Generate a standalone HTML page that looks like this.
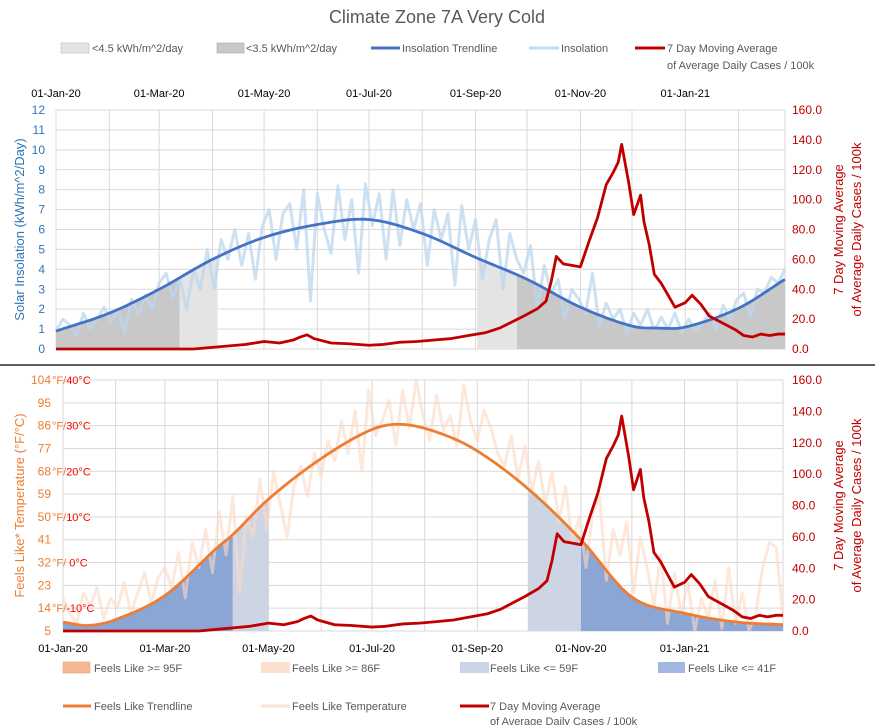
<!DOCTYPE html>
<html><head><meta charset="utf-8"><style>
html,body{margin:0;padding:0;background:#fff;}
svg{display:block;font-family:"Liberation Sans",sans-serif;}
</style></head><body>
<svg id="c" width="875" height="725" viewBox="0 0 875 725" xmlns="http://www.w3.org/2000/svg">
<text x="437" y="23" text-anchor="middle" font-size="18" fill="#595959">Climate Zone 7A Very Cold</text>
<line x1="0" y1="365" x2="875" y2="365" stroke="#000" stroke-width="1.2"/>
<g font-size="11" fill="#595959">
<g><rect x="61" y="43" width="28" height="10" fill="#e4e4e4" stroke="#bfbfbf" stroke-width="0.6"/><text x="92" y="52">&lt;4.5 kWh/m^2/day</text></g>
<g><rect x="217" y="43" width="27" height="10" fill="#c9c9c9" stroke="#a6a6a6" stroke-width="0.6"/><text x="246" y="52">&lt;3.5 kWh/m^2/day</text></g>
<g><line x1="371" y1="48" x2="400" y2="48" stroke="#4472c4" stroke-width="3"/><text x="402" y="52">Insolation Trendline</text></g>
<g><line x1="529" y1="48" x2="559" y2="48" stroke="#c6dcf1" stroke-width="3"/><text x="561" y="52">Insolation</text></g>
<g><line x1="635" y1="48" x2="665" y2="48" stroke="#c00000" stroke-width="3"/><text x="667" y="52">7 Day Moving Average</text><text x="667" y="69">of Average Daily Cases / 100k</text></g>
</g>
<g font-size="11" fill="#595959">
<g><rect x="63" y="662" width="27" height="11" fill="#f5b894" stroke="#f0a070" stroke-width="0.6"/><text x="94" y="672">Feels Like &gt;= 95F</text></g>
<g><rect x="261" y="662" width="29" height="11" fill="#fbe0d0"/><text x="292" y="672">Feels Like &gt;= 86F</text></g>
<g><rect x="460" y="662" width="29" height="11" fill="#cbd4e6"/><text x="490" y="672">Feels Like &lt;= 59F</text></g>
<g><rect x="658" y="662" width="27" height="11" fill="#a3b8e0"/><text x="688" y="672">Feels Like &lt;= 41F</text></g>
<g><line x1="63" y1="706" x2="91" y2="706" stroke="#ed7d31" stroke-width="3"/><text x="94" y="710">Feels Like Trendline</text></g>
<g><line x1="261" y1="706" x2="290" y2="706" stroke="#fbe3d4" stroke-width="3"/><text x="292" y="710">Feels Like Temperature</text></g>
<g><line x1="460" y1="706" x2="489" y2="706" stroke="#c00000" stroke-width="3"/><text x="490" y="710">7 Day Moving Average</text><text x="490" y="725">of Average Daily Cases / 100k</text></g>
</g>
</svg>
<script>
// ---- data ----
const dateLabels=["01-Jan-20","01-Mar-20","01-May-20","01-Jul-20","01-Sep-20","01-Nov-20","01-Jan-21"];
const dateLabelDays=[0,60,121,182,244,305,366];
const monthDays=[0,31,60,91,121,152,182,213,244,274,305,335,366,397];
const totalDays=424;
const insolTicks=[0,1,2,3,4,5,6,7,8,9,10,11,12];
const caseTicks=["0.0","20.0","40.0","60.0","80.0","100.0","120.0","140.0","160.0"];
const tempTicks=[5,14,23,32,41,50,59,68,77,86,95,104];
const tempCelsius={14:"-10°C",32:" 0°C",50:"10°C",68:"20°C",86:"30°C",104:"40°C"};
const insolation=[0.9,1.5,1.2,0.7,1.8,1.0,1.5,2.1,
1.3,2.0,0.8,2.5,1.7,2.7,2.0,
3.3,3.8,2.6,3.5,2.0,4.0,3.0,5.0,
3.0,5.5,4.5,6.0,4.2,5.8,3.5,6.2,
7.0,4.5,6.8,7.3,5.0,8.0,2.4,7.8,
6.0,4.8,8.2,5.5,7.5,3.8,8.3,6.2,
7.8,4.5,8.0,5.2,7.5,6.0,7.3,4.2,
7.0,5.5,6.8,3.2,7.2,5.0,6.5,3.5,
5.5,6.5,3.0,5.8,4.5,3.8,5.2,2.0,
4.2,2.8,3.5,1.5,3.0,2.5,1.8,3.8,
1.2,2.3,1.5,2.0,0.8,1.8,1.2,2.0,
0.9,1.6,1.0,1.8,0.8,1.5,0.9,1.3,
1.8,1.0,2.2,1.5,2.5,2.8,1.6,3.0,
2.8,3.6,3.3,4.0];
const insolTrendDays=[0,31,60,91,121,152,182,213,244,274,305,335,350,366,397,424];
const insolTrend=[0.9,1.8,3.0,4.5,5.6,6.25,6.5,5.8,4.6,3.5,2.1,1.15,1.05,1.1,2.05,3.5];
const temperature=[18,12,8,20,15,22,10,18,
14,24,12,20,28,16,26,
30,22,36,18,40,30,45,28,
52,35,58,20,50,42,65,45,
68,55,42,62,70,58,75,66,
80,72,88,75,92,68,100,82,
88,96,78,100,85,104,90,80,
98,84,90,78,102,88,80,92,
85,75,70,82,65,78,60,72,
55,68,48,62,40,50,30,52,
58,25,45,35,48,20,42,30,
15,35,8,28,12,24,5,18,
10,25,6,30,8,20,5,12,
30,40,38,10];
const tempTrendDays=[0,15,31,60,91,100,121,152,182,200,222,244,274,305,335,366,397,424];
const tempTrend=[8.5,7.2,9.5,19,38,43,57,73,84.5,86.5,83,76,61,41,18.4,12,8.5,7.5];
const caseDays=[0,80,90,100,110,121,130,138,142,146,150,160,170,182,190,200,210,220,230,240,250,258,265,272,280,285,288,291,295,300,305,310,315,320,324,327,329,333,336,340,342,345,348,352,356,360,366,370,375,380,385,390,395,400,405,410,415,420,424];
const caseVals=[0,0,1,2,3,5,4,6,8,9.5,7,4,3.5,2.5,3,4.5,5,6,7,9,11,14,18,22,27,32,45,62,57,56,55,72,88,110,118,125,137,112,90,103,85,70,50,44,36,28,31,36,30,22,19,16,13,9,8,10,9,10,10];
// shaded ranges (days)
const top35Ranges=[[0,72],[268,424]];
const top45Ranges=[[72,94],[245,268]];
const bot41Ranges=[[0,100],[305,424]];
const bot59Ranges=[[100,121],[274,305]];

// ---- drawing ----
const NS="http://www.w3.org/2000/svg";
const svg=document.getElementById('c');
function mk(tag,attrs,parent){const e=document.createElementNS(NS,tag);for(const k in attrs)e.setAttribute(k,attrs[k]);(parent||svg).appendChild(e);return e;}
function smooth(days,vals,d){
  const n=days.length;
  for(let i=0;i<n-1;i++){
    if(d>=days[i]&&d<=days[i+1]){
      const h=days[i+1]-days[i], t=(d-days[i])/h;
      const slope=j=>{const a=Math.max(0,j-1),b=Math.min(n-1,j+1);return (vals[b]-vals[a])/(days[b]-days[a]);};
      const m0=slope(i)*h, m1=slope(i+1)*h;
      const t2=t*t,t3=t2*t;
      return (2*t3-3*t2+1)*vals[i]+(t3-2*t2+t)*m0+(-2*t3+3*t2)*vals[i+1]+(t3-t2)*m1;
    }
  }
  return vals[n-1];
}
function idxDay(i,n){return i*totalDays/(n-1);}

function panel(P){
  const g=mk('g',{});
  
  
  const xs=d=>P.x0+(P.x1-P.x0)*d/totalDays;
  const yl=v=>P.y1-(P.y1-P.y0)*(v-P.lmin)/(P.lmax-P.lmin);
  const yr=v=>P.y1-(P.y1-P.y0)*v/160;
  P.lticks.forEach(t=>{const l=mk('line',{x1:P.x0,x2:P.x1,y1:yl(t),y2:yl(t),stroke:'#d9d9d9','stroke-width':1},g);});
  monthDays.forEach(d=>{const l=mk('line',{x1:xs(d),x2:xs(d),y1:P.y0,y2:P.y1,stroke:'#d9d9d9','stroke-width':1},g);});
  const rl=mk('line',{x1:P.x1,x2:P.x1,y1:P.y0,y2:P.y1,stroke:'#d9d9d9'},g);
  function area(ranges,fill,name){ranges.forEach(r=>{let pts=[];for(let d=r[0];d<=r[1];d+=1)pts.push(xs(d)+','+yl(smooth(P.tDays,P.tVals,d)));pts.push(xs(r[1])+','+P.y1);pts.push(xs(r[0])+','+P.y1);const p=mk('polygon',{points:pts.join(' '),fill:fill},g);});}
  area(P.darkR,P.darkC,P.darkName);area(P.lightR,P.lightC,P.lightName);
  const n=P.noisy.length;
  const np=mk('polyline',{points:P.noisy.map((v,i)=>xs(idxDay(i,n))+','+yl(v)).join(' '),fill:'none',stroke:P.noisyC,'stroke-width':3,'stroke-linejoin':'round',opacity:P.noisyOp},g);
  
  let tp=[];for(let d=0;d<=totalDays;d+=2)tp.push(xs(d)+','+yl(smooth(P.tDays,P.tVals,d)));
  const tl=mk('polyline',{points:tp.join(' '),fill:'none',stroke:P.trendC,'stroke-width':2.8},g);
  
  const cl=mk('polyline',{points:caseDays.map((d,i)=>xs(d)+','+yr(caseVals[i])).join(' '),fill:'none',stroke:'#c00000','stroke-width':2.8,'stroke-linejoin':'round'},g);
  
  P.lticks.forEach(t=>{const tx=mk('text',{x:P.lx,y:yl(t)+4,'text-anchor':'end','font-size':12,fill:P.lc},g);tx.textContent=t;
    if(P.celsius&&P.celsius[t]!==undefined){const s=mk('text',{x:P.lx+1,y:yl(t)+4,'font-size':11},g);const a=mk('tspan',{fill:'#ed7d31'},s);a.textContent='°F/';const b=mk('tspan',{fill:'#ff0000'},s);b.textContent=P.celsius[t];}});
  caseTicks.forEach((t,i)=>{const tx=mk('text',{x:792,y:yr(i*20)+4,'font-size':12,fill:'#c00000'},g);tx.textContent=t;});
  dateLabels.forEach((s,i)=>{const tx=mk('text',{x:xs(dateLabelDays[i]),y:P.xly,'text-anchor':'middle','font-size':11,fill:'#000'},g);tx.textContent=s;});
  const cy=(P.y0+P.y1)/2;
  const lt=mk('text',{x:0,y:0,'text-anchor':'middle','font-size':13,fill:P.lc,transform:`translate(${P.ltx},${cy}) rotate(-90)`},g);lt.textContent=P.ltitle;
  const r1=mk('text',{x:0,y:0,'text-anchor':'middle','font-size':13,fill:'#c00000',transform:`translate(843,${cy}) rotate(-90)`},g);r1.textContent='7 Day Moving Average';
  const r2=mk('text',{x:0,y:0,'text-anchor':'middle','font-size':13,fill:'#c00000',transform:`translate(861,${cy}) rotate(-90)`},g);r2.textContent='of Average Daily Cases / 100k';
}
panel({name:'insolation-panel',x0:56,x1:785,y0:110,y1:349,lmin:0,lmax:12,lticks:insolTicks,lx:45,lc:'#2e75b6',
  tDays:insolTrendDays,tVals:insolTrend,darkR:top35Ranges,darkC:'#c8c8c8',darkName:'below-3-5-area',lightR:top45Ranges,lightC:'#e4e4e4',lightName:'below-4-5-area',
  noisy:insolation,noisyC:'#bdd7ee',noisyOp:0.75,noisyName:'insolation-line',trendC:'#4472c4',trendName:'insolation-trendline',xly:97,ltx:24,ltitle:'Solar Insolation (kWh/m^2/Day)'});
panel({name:'temperature-panel',x0:63,x1:783,y0:380,y1:631,lmin:5,lmax:104,lticks:tempTicks,lx:51,lc:'#ed7d31',celsius:tempCelsius,
  tDays:tempTrendDays,tVals:tempTrend,darkR:bot41Ranges,darkC:'#8ba5d4',darkName:'below-41f-area',lightR:bot59Ranges,lightC:'#cdd5e5',lightName:'below-59f-area',
  noisy:temperature,noisyC:'#fbd9c4',noisyOp:0.6,noisyName:'feels-like-line',trendC:'#ed7d31',trendName:'feels-like-trendline',xly:652,ltx:24,ltitle:'Feels Like* Temperature (°F/°C)'});
</script>
</body></html>
